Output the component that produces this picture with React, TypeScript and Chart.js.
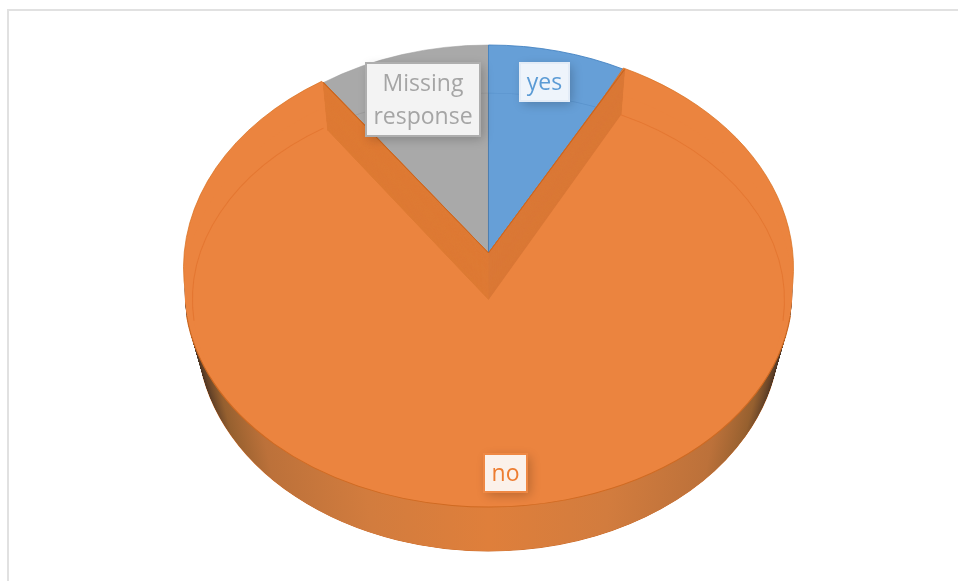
import React, { useEffect, useRef } from "react";
import { Chart, ArcElement, registerables } from "chart.js";

Chart.register(...registerables);

// Survey answers, in clockwise order from twelve o'clock (percent of responses).
const categories = ["yes", "no", "Missing response"];
const shares = [7.8, 82.5, 9.7];
const faceColors = ["#669FD7", "#EB843F", "#A9A9A9"];
const inkColors = ["#5B9BD5", "#ED7D31", "#A5A5A5"];

// Ellipses that project the flat pie onto the tilted disc.
const CENTER_X = 488.5;
const RIM = { cy: 253, rx: 288, ry: 208 };
const NOTCH_FLOOR = { cy: 300, rx: 280, ry: 207 };
const RING = { cy: 268, rx: 305, ry: 223 };
const FACE = { cy: 300, rx: 296, ry: 207 };
const FRONT = { cy: 290, rx: 304, ry: 217 };
const BASE = { cy: 334, rx: 291, ry: 217 };

// Angular widening (radians) of the outer ellipses, where perspective spreads the notch corners.
const RING_SPREAD = [0.032, 0.031];
const FACE_SPREAD = [0.026, 0.018];

type Level = { cy: number; rx: number; ry: number };

const lerpLevel = (a: Level, b: Level, t: number): Level => ({
  cy: a.cy + (b.cy - a.cy) * t,
  rx: a.rx + (b.rx - a.rx) * t,
  ry: a.ry + (b.ry - a.ry) * t,
});

const LABEL_BOXES = [
  { x: 520, y: 63, w: 49, h: 38, fill: "#EEF4FB", border: "#E3ECF7", lines: ["yes"] },
  { x: 484, y: 454, w: 43, h: 38, fill: "#FBF1EA", border: "#EE8844", lines: ["no"] },
  { x: 366, y: 63, w: 114, h: 73, fill: "#F3F3F3", border: "#AEAEAE", lines: ["Missing", "response"] },
];

const tiltedPie = {
  id: "tiltedPie",
  beforeDatasetsDraw(chart: any) {
    const ctx: CanvasRenderingContext2D = chart.ctx;
    const arcs = chart.getDatasetMeta(0).data as any[];
    const [yes, no, missing] = arcs;
    const R = no.outerRadius;

    const project = (level: Level, arc: any) => {
      ctx.translate(CENTER_X, level.cy);
      ctx.scale(level.rx / R, level.ry / R);
      ctx.translate(-arc.x, -arc.y);
    };

    const paint = (
      arc: any,
      level: Level,
      fill: any,
      border: any = "transparent",
      borderWidth = 0,
      startAngle = arc.startAngle,
      endAngle = arc.endAngle
    ) => {
      const piece = new (ArcElement as any)({
        x: arc.x,
        y: arc.y,
        startAngle,
        endAngle,
        circumference: endAngle - startAngle,
        innerRadius: 0,
        outerRadius: R,
        options: {
          ...arc.options,
          backgroundColor: fill,
          borderColor: border,
          borderWidth,
          borderAlign: "center",
          borderJoinStyle: "round",
          offset: 0,
          spacing: 0,
          borderRadius: 0,
        },
      });
      ctx.save();
      project(level, arc);
      piece.draw(ctx);
      ctx.restore();
    };

    const edgeLine = (level: Level, from: number, to: number, color: string, width: number) => {
      ctx.save();
      project(level, no);
      ctx.beginPath();
      ctx.arc(no.x, no.y, R, from, to);
      ctx.strokeStyle = color;
      ctx.lineWidth = width;
      ctx.stroke();
      ctx.restore();
    };

    // Outer wall of the disc: dark towards the silhouette, warm towards the viewer.
    const wall = ctx.createLinearGradient(no.x - R, 0, no.x + R, 0);
    [
      [0, "#33251B"],
      [0.025, "#5E3F27"],
      [0.06, "#96602F"],
      [0.13, "#BC713A"],
      [0.3, "#D27C3E"],
      [0.5, "#DF7F3B"],
      [0.7, "#D27C3E"],
      [0.87, "#BC713A"],
      [0.94, "#96602F"],
      [0.975, "#5E3F27"],
      [1, "#33251B"],
    ].forEach(([at, color]) => wall.addColorStop(at as number, color as string));
    paint(no, BASE, wall, "#C9641F", 1);
    for (let t = 1; t >= 0; t -= 0.01) paint(no, lerpLevel(FRONT, BASE, t), wall);

    // The two smaller slices sit behind the notch cut out of the large one.
    paint(missing, RIM, faceColors[2], "#9C9C9C", 0.6);
    paint(yes, RIM, faceColors[0], "#3F7FBF", 1);
    paint(missing, FACE, "transparent", "rgba(120,120,120,0.25)", 1);
    paint(yes, FACE, "transparent", "rgba(62,118,180,0.3)", 1);

    // Raised ring and front of the large slice.
    const ringStart = no.startAngle - RING_SPREAD[0];
    const ringEnd = no.endAngle + RING_SPREAD[1];
    paint(no, RING, faceColors[1], "#D8701F", 0.8, ringStart, ringEnd);
    paint(no, FRONT, faceColors[1], "transparent", 0, no.startAngle - FACE_SPREAD[0], no.endAngle + FACE_SPREAD[1]);

    // Cut walls either side of the notch.
    const sliver = 0.002;
    for (let t = 0; t <= 1; t += 0.01) {
      const level = lerpLevel(RIM, NOTCH_FLOOR, t);
      paint(no, level, "#DA7836", "#DA7836", 1, no.startAngle, no.startAngle + sliver);
      paint(no, level, "#DE7A34", "#DE7A34", 1, no.endAngle - sliver, no.endAngle);
    }
    paint(no, RIM, "#C9641F", "#C9641F", 0.8, no.startAngle, no.startAngle + sliver);
    paint(no, RIM, "#C9641F", "#C9641F", 0.8, no.endAngle - sliver, no.endAngle);

    // Face of the large slice; its edge is faint at the back and strong along the front.
    const faceStart = no.startAngle - FACE_SPREAD[0];
    const faceEnd = no.endAngle + FACE_SPREAD[1];
    paint(no, FACE, faceColors[1], "transparent", 0, faceStart, faceEnd);
    edgeLine(FACE, faceStart, 0.1, "rgba(222,108,38,0.55)", 1);
    edgeLine(FACE, Math.PI - 0.1, faceEnd, "rgba(222,108,38,0.55)", 1);
    edgeLine(FRONT, 0.12, Math.PI - 0.12, "#CF6A22", 1.2);

    // Data labels in their callout boxes.
    LABEL_BOXES.forEach((box, i) => {
      ctx.save();
      ctx.shadowColor = "rgba(0,0,0,0.22)";
      ctx.shadowBlur = 10;
      ctx.shadowOffsetX = 3;
      ctx.shadowOffsetY = 3;
      ctx.fillStyle = box.fill;
      ctx.fillRect(box.x, box.y, box.w, box.h);
      ctx.restore();
      ctx.strokeStyle = box.border;
      ctx.lineWidth = 2;
      ctx.strokeRect(box.x, box.y, box.w, box.h);
      ctx.fillStyle = inkColors[i];
      ctx.font = "23px 'Open Sans'";
      ctx.textAlign = "center";
      ctx.textBaseline = "middle";
      box.lines.forEach((line, n) => {
        const mid = box.y + box.h / 2 + 1 + (n - (box.lines.length - 1) / 2) * 33;
        ctx.fillText(line, box.x + box.w / 2, mid);
      });
    });
    return false;
  },
};

export default function App() {
  const canvasRef = useRef<HTMLCanvasElement>(null);

  useEffect(() => {
    const chart = new Chart(canvasRef.current as HTMLCanvasElement, {
      type: "pie",
      data: {
        labels: categories,
        datasets: [{ data: shares, backgroundColor: faceColors, borderWidth: 0 }],
      },
      options: {
        animation: false,
        responsive: false,
        events: [],
        layout: { padding: 0 },
        plugins: { legend: { display: false }, tooltip: { enabled: false } },
      },
      plugins: [tiltedPie],
    } as any);
    return () => chart.destroy();
  }, []);

  return (
    <div style={{ position: "fixed", left: 0, top: 0, width: 958, height: 581, background: "#fff", overflow: "hidden" }}>
      <canvas ref={canvasRef} width={958} height={581} style={{ display: "block" }} />
      <div
        style={{
          position: "absolute",
          left: 7,
          top: 9,
          width: 951,
          height: 572,
          borderLeft: "2px solid #E1E1E1",
          borderTop: "2px solid #E1E1E1",
          boxSizing: "border-box",
        }}
      />
    </div>
  );
}
